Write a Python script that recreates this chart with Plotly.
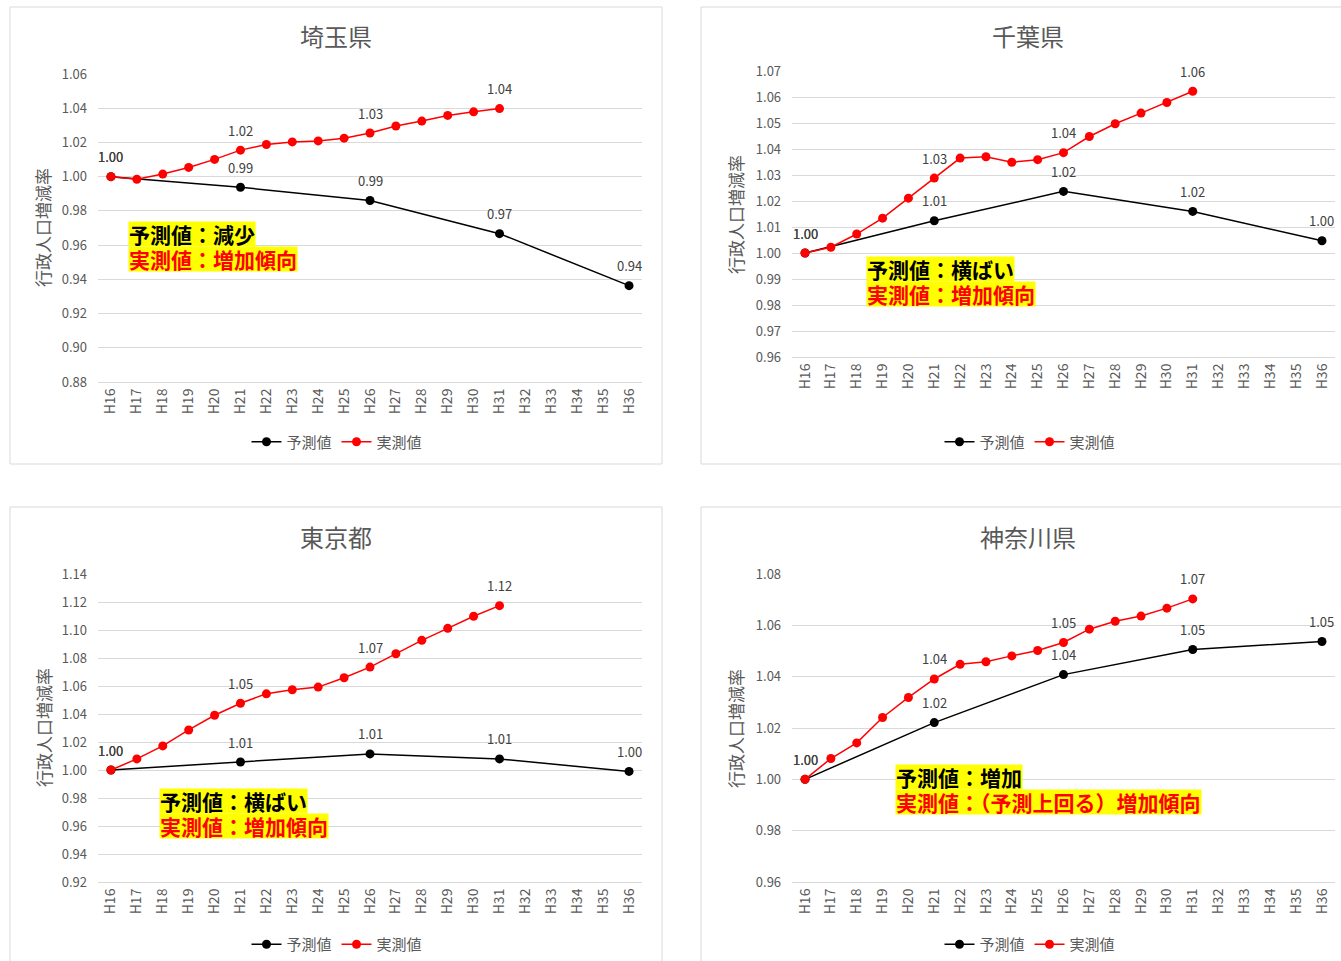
import plotly.graph_objects as go

W, H = 1341, 961

categories = ["H16", "H17", "H18", "H19", "H20", "H21", "H22", "H23", "H24", "H25", "H26",
              "H27", "H28", "H29", "H30", "H31", "H32", "H33", "H34", "H35", "H36"]

titles = ["埼玉県", "千葉県", "東京都", "神奈川県"]
series_names = ["予測値", "実測値"]
y_title = "行政人口増減率"

N = None
saitama_forecast = [1.000, N, N, N, N, 0.9938, N, N, N, N, 0.9861, N, N, N, N, 0.9667, N, N, N, N, 0.9363]
saitama_actual = [1.000, 0.9985, 1.0015, 1.0054, 1.0101, 1.0155, 1.0188, 1.0203, 1.0209, 1.0225, 1.0255,
                  1.0296, 1.0325, 1.0358, 1.0379, 1.0398]

chiba_forecast = [1.000, N, N, N, N, 1.0124, N, N, N, N, 1.0237, N, N, N, N, 1.0160, N, N, N, N, 1.0047]
chiba_actual = [1.000, 1.0022, 1.0073, 1.0134, 1.0211, 1.0288, 1.0365, 1.0370, 1.0349, 1.0359, 1.0386,
                1.0448, 1.0497, 1.0538, 1.0579, 1.0622]

tokyo_forecast = [1.000, N, N, N, N, 1.0057, N, N, N, N, 1.0115, N, N, N, N, 1.0079, N, N, N, N, 0.9990]
tokyo_actual = [1.000, 1.0079, 1.0172, 1.0286, 1.0391, 1.0477, 1.0544, 1.0573, 1.0592, 1.0659, 1.0735,
                1.0830, 1.0926, 1.1012, 1.1098, 1.1174]

kanagawa_forecast = [1.000, N, N, N, N, 1.0221, N, N, N, N, 1.0408, N, N, N, N, 1.0506, N, N, N, N, 1.0537]
kanagawa_actual = [1.000, 1.0081, 1.0142, 1.0241, 1.0319, 1.0391, 1.0448, 1.0458, 1.0481, 1.0502, 1.0533,
                   1.0585, 1.0616, 1.0636, 1.0667, 1.0703]

label_points = ["H16", "H21", "H26", "H31", "H36"]

notes = [
    ("予測値：減少", "実測値：増加傾向"),
    ("予測値：横ばい", "実測値：増加傾向"),
    ("予測値：横ばい", "実測値：増加傾向"),
    ("予測値：増加", "実測値：（予測上回る）増加傾向"),
]

y_ranges = [(0.88, 1.06, 0.02), (0.96, 1.07, 0.01), (0.92, 1.14, 0.02), (0.96, 1.08, 0.02)]

FONT = "Noto Sans CJK JP"
GRAY = "#595959"
GRID = "#d9d9d9"


def px(x):
    return x / W


def py(y):
    return 1 - y / H


# layout geometry (pixels)
panels = [
    dict(box=(10, 7, 662, 464), plot=(98.0, 74, 642.0, 382), title=(336, 36), ytitle=(43, 228),
         legend=(337, 442, "middle"), note=(128, 221)),
    dict(box=(701, 7, 1360, 464), plot=(792.1, 71, 1334.9, 357), title=(1028, 36), ytitle=(735, 214),
         legend=(1030, 442, "middle"), note=(866, 256)),
    dict(box=(10, 507, 662, 990), plot=(98.0, 574, 642.0, 882), title=(336, 536), ytitle=(43, 728),
         legend=(337, 961, "bottom"), note=(159, 788)),
    dict(box=(701, 507, 1360, 990), plot=(792.1, 574, 1334.9, 882), title=(1028, 536), ytitle=(735, 728),
         legend=(1030, 961, "bottom"), note=(895, 764)),
]

data = [
    (saitama_forecast, saitama_actual),
    (chiba_forecast, chiba_actual),
    (tokyo_forecast, tokyo_actual),
    (kanagawa_forecast, kanagawa_actual),
]

fig = go.Figure()
shapes = []
annotations = []
layout = {}

for i, (pan, (fc, ac)) in enumerate(zip(panels, data)):
    n = i + 1
    xa = "x" if n == 1 else f"x{n}"
    ya = "y" if n == 1 else f"y{n}"
    leg = "legend" if n == 1 else f"legend{n}"
    x0, y0, x1, y1 = pan["plot"]
    lo, hi, dt = y_ranges[i]

    layout["xaxis" if n == 1 else f"xaxis{n}"] = dict(
        domain=[px(x0), px(x1)], anchor=ya, type="category", range=[-0.5, 20.5],
        showgrid=False, showline=True, linecolor=GRID, linewidth=1, ticks="",
        tickangle=-90, tickfont=dict(family=FONT, size=14, color=GRAY), automargin=False,
        categoryorder="array", categoryarray=categories, fixedrange=True,
    )
    layout["yaxis" if n == 1 else f"yaxis{n}"] = dict(
        domain=[py(y1), py(y0)], anchor=xa, range=[lo, hi], dtick=dt, tick0=lo,
        tickformat=".2f", showgrid=True, gridcolor=GRID, gridwidth=1, zeroline=False,
        showline=False, ticks="", ticklabelstandoff=10, automargin=False,
        tickfont=dict(family=FONT, size=13, color=GRAY), fixedrange=True,
    )

    fig.add_trace(go.Scatter(
        x=categories, y=fc, name=series_names[0], mode="lines+markers", connectgaps=True,
        line=dict(color="black", width=1.5), marker=dict(color="black", size=9),
        xaxis=xa, yaxis=ya, legend=leg,
    ))
    fig.add_trace(go.Scatter(
        x=categories[:len(ac)], y=ac, name=series_names[1], mode="lines+markers",
        line=dict(color="#ff0000", width=1.5), marker=dict(color="#ff0000", size=9),
        xaxis=xa, yaxis=ya, legend=leg,
    ))

    # data labels
    for series in (fc, ac):
        for c in label_points:
            k = categories.index(c)
            if k < len(series) and series[k] is not None:
                annotations.append(dict(
                    x=c, y=series[k], xref=xa, yref=ya, text=f"{series[k]:.2f}",
                    showarrow=False, yshift=20, font=dict(family=FONT, size=13, color="#404040"),
                ))

    # legend
    lx, ly, lanchor = pan["legend"]
    layout[leg] = dict(
        x=px(lx), y=py(ly), xanchor="center", yanchor=lanchor, orientation="h",
        font=dict(family=FONT, size=15, color=GRAY), bgcolor="rgba(0,0,0,0)",
        itemwidth=30, tracegroupgap=0,
    )

    # border
    bx0, by0, bx1, by1 = pan["box"]
    shapes.append(dict(type="rect", xref="paper", yref="paper", x0=px(bx0), x1=px(bx1),
                       y0=py(by1), y1=py(by0), line=dict(color=GRID, width=1), layer="below"))

    # title
    tx, ty = pan["title"]
    annotations.append(dict(x=px(tx), y=py(ty), xref="paper", yref="paper", text=titles[i],
                            showarrow=False, xanchor="center", yanchor="middle",
                            font=dict(family=FONT, size=24, color=GRAY)))
    # y-axis title
    yx, yy = pan["ytitle"]
    annotations.append(dict(x=px(yx), y=py(yy), xref="paper", yref="paper", text=y_title,
                            showarrow=False, textangle=-90, xanchor="center", yanchor="middle",
                            font=dict(family=FONT, size=17, color=GRAY)))
    # notes (one yellow box per line)
    nx, ny = pan["note"]
    l1, l2 = notes[i]
    annotations.append(dict(x=px(nx), y=py(ny), xref="paper", yref="paper", text=f"<b>{l1}</b>",
                            showarrow=False, xanchor="left", yanchor="top", bgcolor="#ffff00",
                            borderpad=0, height=24, valign="middle",
                            font=dict(family=FONT, size=21, color="black")))
    annotations.append(dict(x=px(nx), y=py(ny + 25), xref="paper", yref="paper", text=f"<b>{l2}</b>",
                            showarrow=False, xanchor="left", yanchor="top", bgcolor="#ffff00",
                            borderpad=0, height=24, valign="middle",
                            font=dict(family=FONT, size=21, color="#ff0000")))

fig.update_layout(
    template="none",
    width=W, height=H, margin=dict(l=0, r=0, t=0, b=0, pad=0),
    paper_bgcolor="white", plot_bgcolor="white",
    shapes=shapes, annotations=annotations, showlegend=True,
    font=dict(family=FONT, color=GRAY),
    **layout,
)

fig.write_html("out.html", config={"displayModeBar": False},
               post_script="document.body.style.margin='0';document.body.style.overflow='hidden';")
